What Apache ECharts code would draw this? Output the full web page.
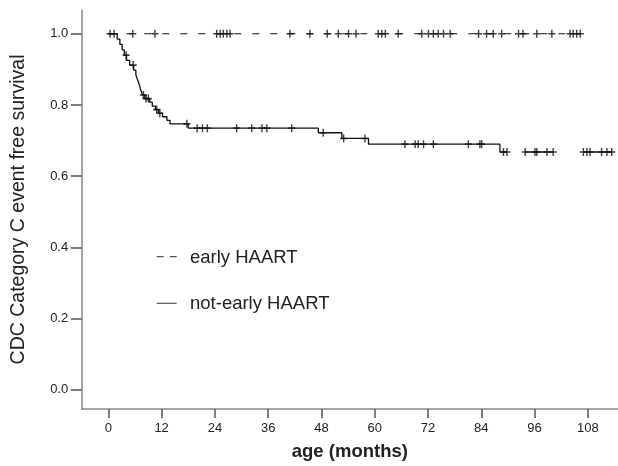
<!DOCTYPE html>
<html>
<head>
<meta charset="utf-8">
<script src="https://cdn.jsdelivr.net/npm/echarts@6/dist/echarts.min.js"></script>
<style>
html,body{margin:0;padding:0;background:#fff;}
#chart{width:618px;height:466px;}
</style>
</head>
<body>
<div id="chart"></div>
<script>
// ---- data ----
const xTickLabels = [0, 12, 24, 36, 48, 60, 72, 84, 96, 108];
const yTickLabels = [0.0, 0.2, 0.4, 0.6, 0.8, 1.0];
const legendNames = ['early HAART', 'not-early HAART'];

// early HAART: no events, survival stays 1.0
const earlyEnd = 106.3;
const earlyCensorMonths = [0.4, 5.5, 10.5, 24.4, 25.2, 25.9, 26.7, 27.4, 40.9, 45.4, 49.3, 51.8, 54.1, 55.8,
  60.8, 61.6, 62.4, 65.3, 70.6, 72.1, 73.2, 74.3, 75.5, 77.0, 83.4, 85.2, 86.7, 88.6, 92.4, 93.4,
  96.5, 99.9, 104.0, 104.7, 105.5, 106.3];

// not-early HAART: event times and survival after each event
const notEarlyEventMonths = [2.0, 2.6, 3.1, 3.6, 4.1, 4.8, 5.7, 6.2, 6.6, 7.0, 7.3, 7.7, 8.2, 9.3, 9.9,
  10.6, 11.3, 12.2, 13.2, 13.9, 18.0, 47.3, 52.6, 58.6, 88.2];
const notEarlySurvival = [0.985, 0.970, 0.955, 0.940, 0.925, 0.912, 0.898, 0.884, 0.870, 0.856, 0.842, 0.828, 0.818, 0.808, 0.797,
  0.787, 0.777, 0.767, 0.757, 0.747, 0.735, 0.722, 0.706, 0.690, 0.668];
const notEarlyCensorMonths = [1.3, 4.0, 5.6, 7.9, 8.5, 9.0, 10.9, 11.6, 17.7, 20.0, 21.2, 22.3, 28.9, 32.3, 34.6, 35.7,
  41.3, 48.4, 53.0, 57.8, 66.8, 69.1, 69.8, 71.0, 73.2, 81.1, 83.7, 84.1, 89.0, 89.8, 93.9, 96.1,
  96.5, 98.8, 100.2, 107.0, 107.8, 108.5, 111.1, 112.3, 113.4];
// pieces of the not-early line that are visible after the last drawn stretch
const notEarlyLineEnd = 89.8;
const notEarlyExtraSegments = [[93.9, 100.2], [107.0, 113.4]];

// ---- build series data ----
function survivalAt(t) {
  let s = 1;
  for (let i = 0; i < notEarlyEventMonths.length; i++) {
    if (notEarlyEventMonths[i] <= t) s = notEarlySurvival[i];
  }
  return s;
}
const notEarlyLine = [[0, 1]];
notEarlyEventMonths.forEach((t, i) => notEarlyLine.push([t, notEarlySurvival[i]]));
notEarlyLine.push([notEarlyLineEnd, survivalAt(notEarlyLineEnd)]);
notEarlyExtraSegments.forEach(seg => {
  notEarlyLine.push([null, null]);
  notEarlyLine.push([seg[0], survivalAt(seg[0])]);
  notEarlyLine.push([seg[1], survivalAt(seg[1])]);
});
const earlyLine = [[0, 1], [earlyEnd, 1]];
const earlyCensor = earlyCensorMonths.map(t => [t, 1]);
const notEarlyCensor = notEarlyCensorMonths.map(t => [t, survivalAt(t)]);

const plus = 'path://M4,0H6V4H10V6H6V10H4V6H0V4H4Z';
const FONT = '"Liberation Sans", Arial, Helvetica, sans-serif';

// legend geometry
const LEG_LEFT = 155, LEG_TOP = 242.7, LEG_ITEM_H = 20, LEG_GAP = 26.6, LEG_ICON_W = 21, LEG_TEXT_DY = 4;

const chart = echarts.init(document.getElementById('chart'), null, {renderer: 'canvas'});
chart.setOption({
  animation: false,
  backgroundColor: '#fff',
  textStyle: {fontFamily: FONT},
  grid: {left: 81.7, right: 0, top: 9.9, bottom: 52.7, containLabel: false},
  legend: {
    orient: 'vertical',
    left: LEG_LEFT,
    top: LEG_TOP,
    itemWidth: LEG_ICON_W,
    itemHeight: LEG_ITEM_H,
    itemGap: LEG_GAP,
    selectedMode: false,
    icon: 'none',
    textStyle: {fontFamily: FONT, fontSize: 18.5, color: '#222', padding: [0, 0, 0, 4]},
    data: legendNames.map(n => ({name: n, icon: 'none'}))
  },
  graphic: [
    {
      type: 'line', silent: true,
      shape: {x1: LEG_LEFT + 1.7, y1: LEG_TOP + LEG_ITEM_H / 2 + LEG_TEXT_DY, x2: LEG_LEFT + 1.7 + 20, y2: LEG_TOP + LEG_ITEM_H / 2 + LEG_TEXT_DY},
      style: {stroke: '#555', lineWidth: 1.2, lineDash: [7, 6]}
    },
    {
      type: 'line', silent: true,
      shape: {x1: LEG_LEFT + 1.7, y1: LEG_TOP + LEG_ITEM_H * 1.5 + LEG_GAP + LEG_TEXT_DY, x2: LEG_LEFT + 1.7 + 20, y2: LEG_TOP + LEG_ITEM_H * 1.5 + LEG_GAP + LEG_TEXT_DY},
      style: {stroke: '#555', lineWidth: 1.2}
    }
  ],
  xAxis: {
    type: 'value',
    min: -6,
    max: 114.8,
    name: 'age (months)',
    nameLocation: 'middle',
    nameGap: 33,
    nameTextStyle: {fontFamily: FONT, fontSize: 18.5, fontWeight: 'bold', color: '#222'},
    splitLine: {show: false},
    axisLine: {onZero: false, lineStyle: {color: '#888', width: 1.5}},
    axisTick: {show: true, length: 9, customValues: xTickLabels, lineStyle: {color: '#555', width: 1.5}},
    axisLabel: {customValues: xTickLabels, margin: 12.5, fontSize: 13, color: '#222', fontFamily: FONT},
    minorTick: {show: false}
  },
  yAxis: {
    type: 'value',
    min: -0.0536,
    max: 1.067,
    name: 'CDC Category C event free survival',
    nameLocation: 'middle',
    nameGap: 53,
    nameRotate: 90,
    nameTextStyle: {fontFamily: FONT, fontSize: 19.5, color: '#222'},
    splitLine: {show: false},
    axisLine: {onZero: false, lineStyle: {color: '#888', width: 1.5}},
    axisTick: {show: true, length: 11, customValues: yTickLabels, lineStyle: {color: '#555', width: 1.5}},
    axisLabel: {customValues: yTickLabels, margin: 13.5, fontSize: 13, color: '#222', fontFamily: FONT,
      formatter: v => v.toFixed(1)}
  },
  series: [
    {
      name: legendNames[0],
      type: 'line',
      data: earlyLine,
      symbol: 'none',
      lineStyle: {color: '#111', width: 1.2, type: [7, 11]},
      z: 2
    },
    {
      name: legendNames[1],
      type: 'line',
      step: 'end',
      data: notEarlyLine,
      connectNulls: false,
      symbol: 'none',
      lineStyle: {color: '#111', width: 1.3},
      z: 2
    },
    {
      name: 'early censored',
      type: 'scatter',
      data: earlyCensor,
      symbol: plus,
      symbolSize: [7, 8],
      itemStyle: {color: '#111'},
      z: 3
    },
    {
      name: 'not-early censored',
      type: 'scatter',
      data: notEarlyCensor,
      symbol: plus,
      symbolSize: [7, 8],
      itemStyle: {color: '#111'},
      z: 3
    }
  ]
});
</script>
</body>
</html>
